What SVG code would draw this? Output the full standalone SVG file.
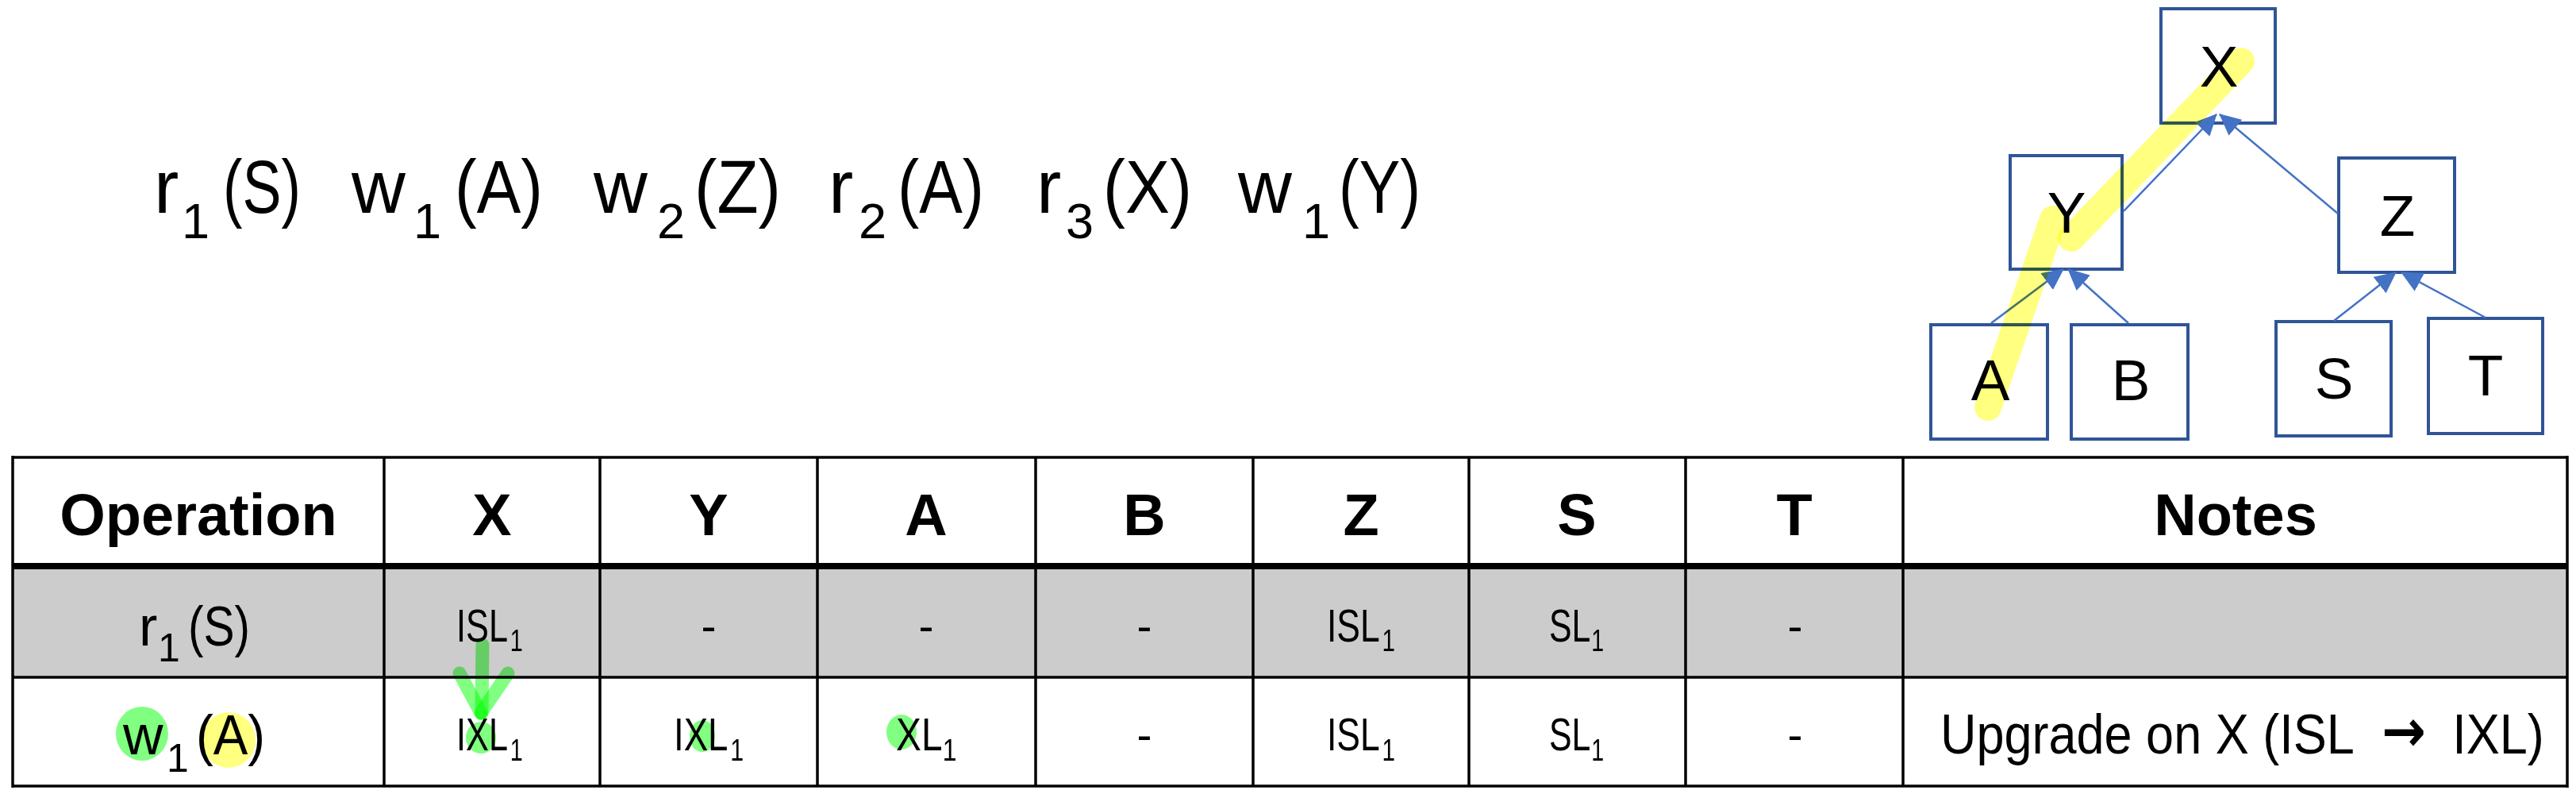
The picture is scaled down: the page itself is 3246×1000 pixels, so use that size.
<svg xmlns="http://www.w3.org/2000/svg" width="3246" height="1000" viewBox="0 0 3246 1000">
<defs>
<style>
text{font-family:"Liberation Sans",Arial,sans-serif;fill:#000}
.f{font-size:94px}
.fs{font-size:63px}
.lbl{font-size:73px;text-anchor:middle}
.hd{font-size:74px;font-weight:bold;text-anchor:middle}
.op{font-size:70px}
.ops{font-size:50px}
.c{font-size:57px}
.cs{font-size:38px}
.dash{font-size:57px;text-anchor:middle}
.arr{font-family:"DejaVu Sans",sans-serif;font-weight:bold;font-size:74px}
.box{fill:#fff;stroke:#2F5597;stroke-width:4}
.edge{stroke:#4472C4;stroke-width:2.5;fill:none;marker-end:url(#ah)}
.hlY{stroke:#FFFF80;stroke-width:34;stroke-linecap:round;fill:none;mix-blend-mode:multiply}
.fillY{fill:#FFFF80;mix-blend-mode:multiply}
.fillG{fill:#80FF80;mix-blend-mode:multiply}
.hlG{stroke:#80FF80;stroke-width:17;stroke-linecap:round;fill:none;mix-blend-mode:multiply}
.ln{stroke:#000;stroke-width:3.5}
</style>
<marker id="ah" markerUnits="userSpaceOnUse" markerWidth="27" markerHeight="26" viewBox="0 0 27 26" refX="26" refY="13" orient="auto">
<path d="M0,0 L27,13 L0,26 z" fill="#4472C4"/>
</marker>
</defs>
<rect x="0" y="0" width="3246" height="1000" fill="#fff"/>

<g id="schedule">
<text class="f" y="268"><tspan x="194">r</tspan><tspan class="fs" x="229" y="300">1</tspan><tspan x="281" y="268" textLength="98" lengthAdjust="spacingAndGlyphs">(S)</tspan></text>
<text class="f" y="268"><tspan x="443">w</tspan><tspan class="fs" x="521" y="300">1</tspan><tspan x="573" y="268" textLength="111" lengthAdjust="spacingAndGlyphs">(A)</tspan></text>
<text class="f" y="268"><tspan x="748">w</tspan><tspan class="fs" x="828" y="300">2</tspan><tspan x="875" y="268" textLength="109" lengthAdjust="spacingAndGlyphs">(Z)</tspan></text>
<text class="f" y="268"><tspan x="1044">r</tspan><tspan class="fs" x="1082" y="300">2</tspan><tspan x="1131" y="268" textLength="109" lengthAdjust="spacingAndGlyphs">(A)</tspan></text>
<text class="f" y="268"><tspan x="1306">r</tspan><tspan class="fs" x="1343" y="300">3</tspan><tspan x="1390" y="268" textLength="112" lengthAdjust="spacingAndGlyphs">(X)</tspan></text>
<text class="f" y="268"><tspan x="1560">w</tspan><tspan class="fs" x="1641" y="300">1</tspan><tspan x="1687" y="268" textLength="103" lengthAdjust="spacingAndGlyphs">(Y)</tspan></text>
</g>

<g id="tree-boxes">
<g id="node-X"><rect class="box" x="2723" y="11" width="144" height="144"/></g>
<g id="node-Y"><rect class="box" x="2533" y="196" width="141" height="143"/></g>
<g id="node-Z"><rect class="box" x="2947" y="199" width="146" height="144"/></g>
<g id="node-A"><rect class="box" x="2433" y="409" width="147" height="144"/></g>
<g id="node-B"><rect class="box" x="2610" y="409" width="147" height="144"/></g>
<g id="node-S"><rect class="box" x="2868" y="405" width="145" height="144"/></g>
<g id="node-T"><rect class="box" x="3060" y="401" width="144" height="145"/></g>
</g>

<g id="connectors">
<line class="edge" x1="2676" y1="266" x2="2793" y2="144"/>
<line class="edge" x1="2946" y1="269" x2="2797" y2="144"/>
<line class="edge" x1="2509" y1="407" x2="2600" y2="339"/>
<line class="edge" x1="2682" y1="407" x2="2606" y2="339"/>
<line class="edge" x1="2941" y1="404" x2="3019" y2="343"/>
<line class="edge" x1="3132" y1="400" x2="3026" y2="343"/>
</g>

<g id="tree-highlight">
<line class="hlY" x1="2824" y1="77" x2="2610" y2="300"/>
<line class="hlY" x1="2587" y1="276" x2="2505" y2="513"/>
</g>

<g id="tree-labels">
<text class="lbl" x="2796" y="109">X</text>
<text class="lbl" x="2604" y="293">Y</text>
<text class="lbl" x="3021" y="297">Z</text>
<text class="lbl" x="2508" y="504">A</text>
<text class="lbl" x="2685" y="504">B</text>
<text class="lbl" x="2941" y="502">S</text>
<text class="lbl" x="3132" y="498">T</text>
</g>

<g id="table">
<rect x="16" y="713" width="3219" height="140" fill="#CCCCCC"/>
<g id="table-lines">
<line class="ln" x1="16" y1="576" x2="3235" y2="576"/>
<line class="ln" x1="16" y1="853" x2="3235" y2="853"/>
<line class="ln" x1="16" y1="990" x2="3235" y2="990"/>
<line x1="16" y1="713" x2="3235" y2="713" stroke="#000" stroke-width="8"/>
<line class="ln" x1="16" y1="574" x2="16" y2="992"/>
<line class="ln" x1="484" y1="576" x2="484" y2="990"/>
<line class="ln" x1="756" y1="576" x2="756" y2="990"/>
<line class="ln" x1="1030" y1="576" x2="1030" y2="990"/>
<line class="ln" x1="1305" y1="576" x2="1305" y2="990"/>
<line class="ln" x1="1579" y1="576" x2="1579" y2="990"/>
<line class="ln" x1="1851" y1="576" x2="1851" y2="990"/>
<line class="ln" x1="2124" y1="576" x2="2124" y2="990"/>
<line class="ln" x1="2398" y1="576" x2="2398" y2="990"/>
<line class="ln" x1="3235" y1="574" x2="3235" y2="992"/>
</g>

<g id="table-highlights">
<ellipse class="fillG" cx="179" cy="924" rx="33" ry="34"/>
<ellipse class="fillY" cx="288" cy="932" rx="34" ry="35"/>
<line class="hlG" x1="608" y1="812" x2="607" y2="898"/>
<line class="hlG" x1="579" y1="848" x2="606" y2="898"/>
<line class="hlG" x1="640" y1="848" x2="606" y2="898"/>
<ellipse class="fillG" cx="606" cy="929" rx="19" ry="20"/>
<ellipse class="fillG" cx="885" cy="927" rx="16" ry="20"/>
<ellipse class="fillG" cx="1136" cy="922" rx="19" ry="22"/>
</g>

<g id="header">
<text class="hd" x="250" y="674">Operation</text>
<text class="hd" x="620" y="674">X</text>
<text class="hd" x="893" y="674">Y</text>
<text class="hd" x="1167" y="674">A</text>
<text class="hd" x="1442" y="674">B</text>
<text class="hd" x="1715" y="674">Z</text>
<text class="hd" x="1987" y="674">S</text>
<text class="hd" x="2261" y="674">T</text>
<text class="hd" x="2817" y="674">Notes</text>
</g>

<g id="row1">
<text class="op" y="813"><tspan x="175">r</tspan><tspan class="ops" x="199" y="833">1</tspan><tspan x="237" y="813" textLength="78" lengthAdjust="spacingAndGlyphs">(S)</tspan></text>
<text class="c" transform="translate(575 808) scale(0.76 1)"><tspan x="0" y="0">ISL</tspan><tspan class="cs" x="89" y="12">1</tspan></text>
<text class="dash" x="893" y="808">-</text>
<text class="dash" x="1167" y="808">-</text>
<text class="dash" x="1442" y="808">-</text>
<text class="c" transform="translate(1672 808) scale(0.78 1)"><tspan x="0" y="0">ISL</tspan><tspan class="cs" x="89" y="12">1</tspan></text>
<text class="c" transform="translate(1952 808) scale(0.75 1)"><tspan x="0" y="0">SL</tspan><tspan class="cs" x="71" y="12">1</tspan></text>
<text class="dash" x="2262" y="808">-</text>
</g>

<g id="row2">
<text class="op" y="950"><tspan x="155">w</tspan><tspan class="ops" x="210" y="972">1</tspan><tspan x="247" y="950" textLength="87" lengthAdjust="spacingAndGlyphs">(A)</tspan></text>
<text class="c" transform="translate(575 945) scale(0.76 1)"><tspan x="0" y="0">IXL</tspan><tspan class="cs" x="89" y="13">1</tspan></text>
<text class="c" transform="translate(849 945) scale(0.8 1)"><tspan x="0" y="0">IXL</tspan><tspan class="cs" x="89" y="13">1</tspan></text>
<text class="c" transform="translate(1129 945) scale(0.84 1)"><tspan x="0" y="0">XL</tspan><tspan class="cs" x="70" y="13">1</tspan></text>
<text class="dash" x="1442" y="945">-</text>
<text class="c" transform="translate(1672 945) scale(0.78 1)"><tspan x="0" y="0">ISL</tspan><tspan class="cs" x="89" y="13">1</tspan></text>
<text class="c" transform="translate(1952 945) scale(0.75 1)"><tspan x="0" y="0">SL</tspan><tspan class="cs" x="71" y="13">1</tspan></text>
<text class="dash" x="2262" y="945">-</text>
<text class="op" transform="translate(2445 949) scale(0.9 1)"><tspan x="0" y="0">Upgrade on X (ISL</tspan><tspan class="arr" x="618" y="-3">→</tspan><tspan x="717" y="0">IXL)</tspan></text>
</g>
</g>
</svg>
